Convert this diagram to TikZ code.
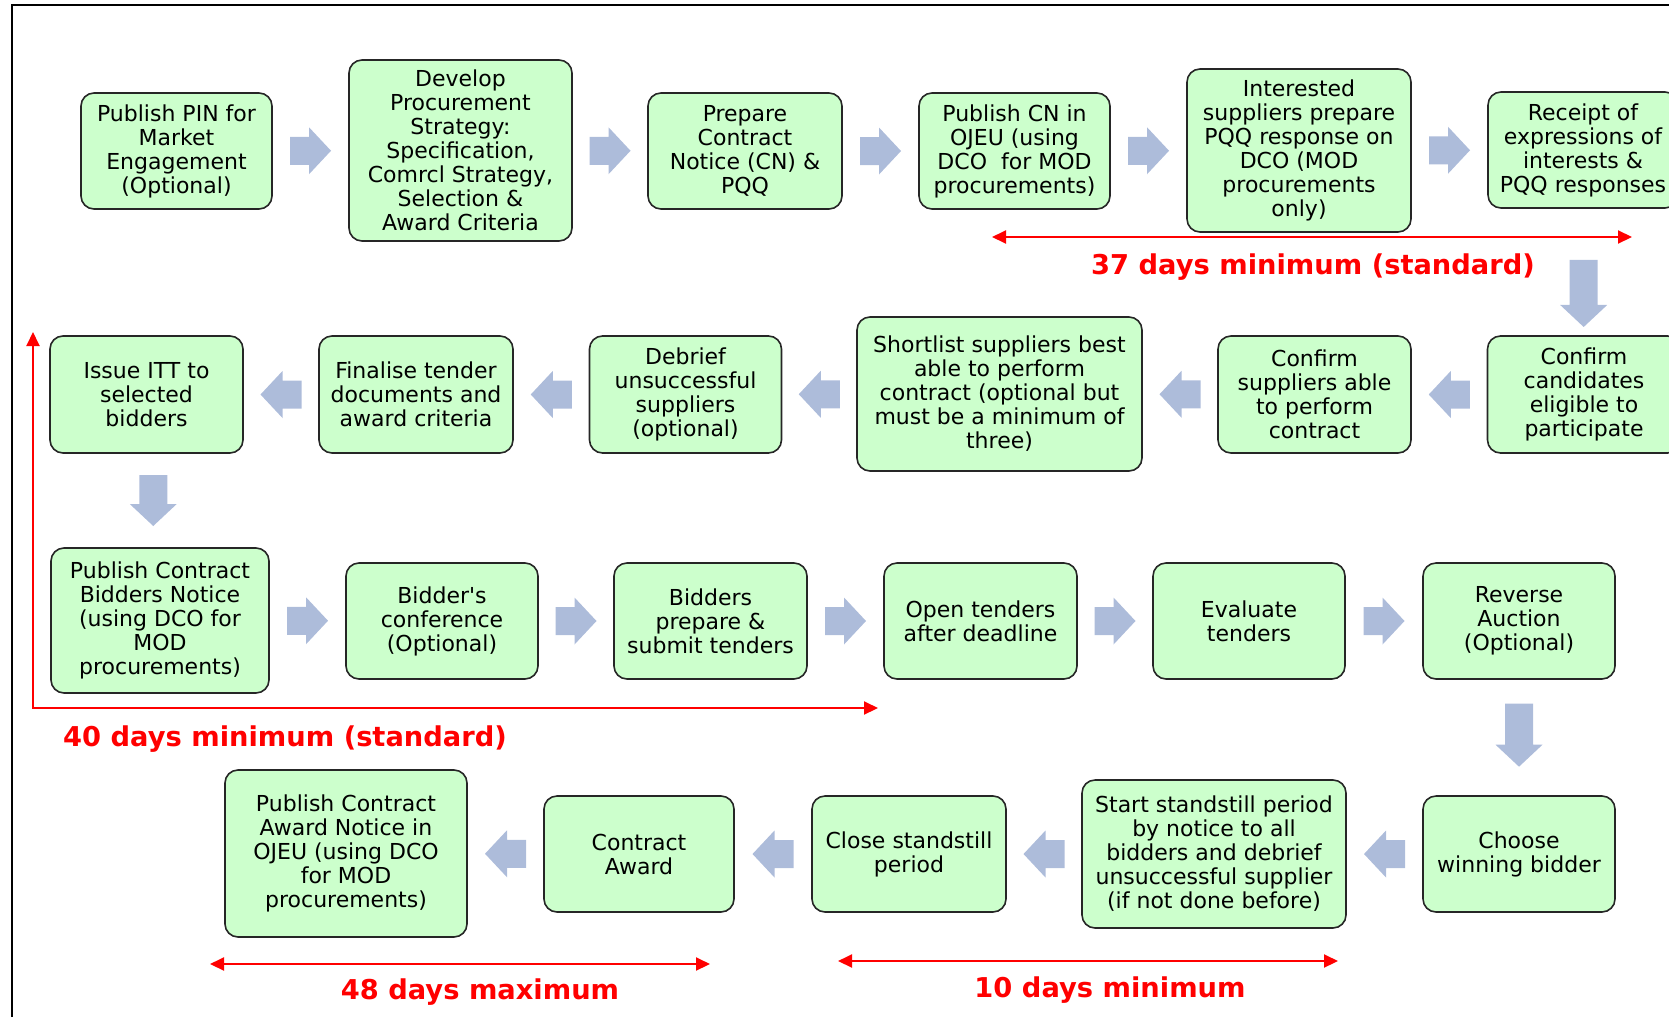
\documentclass[tikz,border=0pt]{standalone}
\usepackage{fontspec}
\setmainfont{DejaVu Sans}
\usetikzlibrary{arrows.meta,calc}
\definecolor{boxgreen}{HTML}{CCFFCC}
\definecolor{arrowblue}{HTML}{ADBCDA}
\tikzset{
  stepbox/.style={draw=black!85,line width=1.6pt,fill=boxgreen,rounded corners=13pt,
    align=center,inner sep=2pt,font=\fontsize{22}{24}\selectfont},
  stdbox/.style={stepbox,minimum width=192pt,minimum height=116pt},
  span/.style={draw=red,line width=2pt,
    {Triangle[length=14pt,width=13pt]}-{Triangle[length=14pt,width=13pt]}},
  spanlabel/.style={text=red,font=\fontsize{27.3}{30}\selectfont\bfseries},
}
% block arrow: position, angle, length
\newcommand{\blockarrow}[3]{%
  \fill[arrowblue,shift={#1},rotate=#2] (-#3/2,-14) -- (#3/2-22,-14) -- (#3/2-22,-23.5)
    -- (#3/2,0) -- (#3/2-22,23.5) -- (#3/2-22,14) -- (-#3/2,14) -- cycle;}

\begin{document}
\begin{tikzpicture}[x=1pt,y=-1pt]
\useasboundingbox (0,0) rectangle (1669,1017);
\clip (0,0) rectangle (1669,1017);
\draw[line width=2pt] (12,1017) -- (12,5) -- (1669,5);

% first row
\node[stdbox,minimum width=191pt] (pin) at (176.5,151) {Publish PIN for\\Market\\Engagement\\(Optional)};
\node[stepbox,minimum width=223pt,minimum height=181pt] (dev) at (460.5,150.5) {Develop\\Procurement\\Strategy:\\Specification,\\Comrcl Strategy,\\Selection \&\\Award Criteria};
\node[stdbox,minimum width=194pt] (prep) at (745,151) {Prepare\\Contract\\Notice (CN) \&\\PQQ};
\node[stdbox,minimum width=191pt] (cn) at (1014.5,151) {Publish CN in\\OJEU (using\\DCO\ \ for MOD\\procurements)};
\node[stepbox,minimum width=224pt,minimum height=163pt] (intr) at (1299,150.5) {Interested\\suppliers prepare\\PQQ response on\\DCO (MOD\\procurements\\only)};
\node[stdbox,minimum width=190pt] (rec) at (1583,150) {Receipt of\\expressions of\\interests \&\\PQQ responses};

% second row
\node[stdbox,minimum width=193pt,minimum height=117pt] (itt) at (146.5,394.5) {Issue ITT to\\selected\\bidders};
\node[stdbox,minimum width=194pt,minimum height=117pt] (fin) at (416,394.5) {Finalise tender\\documents and\\award criteria};
\node[stdbox,minimum height=117pt] (deb) at (685.5,394.5) {Debrief\\unsuccessful\\suppliers\\(optional)};
\node[stepbox,minimum width=285pt,minimum height=154pt] (short) at (999.5,394) {Shortlist suppliers best\\able to perform\\contract (optional but\\must be a minimum of\\three)};
\node[stdbox,minimum width=193pt,minimum height=117pt] (csup) at (1314.5,394.5) {Confirm\\suppliers able\\to perform\\contract};
\node[stdbox,minimum width=193pt,minimum height=117pt] (cand) at (1584,394.5) {Confirm\\candidates\\eligible to\\participate};

% third row
\node[stepbox,minimum width=218pt,minimum height=145pt] (pub) at (160,620.5) {Publish Contract\\Bidders Notice\\(using DCO for\\MOD\\procurements)};
\node[stdbox] (conf) at (442,621) {Bidder\textquotesingle s\\conference\\(Optional)};
\node[stdbox,minimum width=193pt] (subm) at (710.5,621) {Bidders\\prepare \&\\submit tenders};
\node[stdbox,minimum width=193pt] (open) at (980.5,621) {Open tenders\\after deadline};
\node[stdbox] (eval) at (1249,621) {Evaluate\\tenders};
\node[stdbox] (rev) at (1519,621) {Reverse\\Auction\\(Optional)};

% fourth row
\node[stepbox,minimum width=242pt,minimum height=167pt] (can) at (346,853.5) {Publish Contract\\Award Notice in\\OJEU (using DCO\\for MOD\\procurements)};
\node[stdbox,minimum width=190pt] (award) at (639,854) {Contract\\Award};
\node[stdbox,minimum width=194pt] (close) at (909,854) {Close standstill\\period};
\node[stepbox,minimum width=264pt,minimum height=148pt] (start) at (1214,854) {Start standstill period\\by notice to all\\bidders and debrief\\unsuccessful supplier\\(if not done before)};
\node[stdbox] (win) at (1519,854) {Choose\\winning bidder};

% block arrows
\blockarrow{($(pin.east)!0.5!(dev.west)$)}{0}{41}
\blockarrow{($(dev.east)!0.5!(prep.west)$)}{0}{41}
\blockarrow{($(prep.east)!0.5!(cn.west)$)}{0}{41}
\blockarrow{($(cn.east)!0.5!(intr.west)$)}{0}{41}
\blockarrow{($(intr.east)!0.5!(rec.west)$)}{0}{41}
\blockarrow{($(rec.south)!0.67!(cand.north)$)}{-90}{67}
\blockarrow{($(cand.west)!0.5!(csup.east)$)}{180}{41}
\blockarrow{($(csup.west)!0.5!(short.east)$)}{180}{41}
\blockarrow{($(short.west)!0.5!(deb.east)$)}{180}{41}
\blockarrow{($(deb.west)!0.5!(fin.east)$)}{180}{41}
\blockarrow{($(fin.west)!0.5!(itt.east)$)}{180}{41}
\blockarrow{($(itt.south)!0.5!(pub.north)$)}{-90}{51}
\blockarrow{($(pub.east)!0.5!(conf.west)$)}{0}{41}
\blockarrow{($(conf.east)!0.5!(subm.west)$)}{0}{41}
\blockarrow{($(subm.east)!0.5!(open.west)$)}{0}{41}
\blockarrow{($(open.east)!0.5!(eval.west)$)}{0}{41}
\blockarrow{($(eval.east)!0.5!(rev.west)$)}{0}{41}
\blockarrow{($(rev.south)!0.48!(win.north)$)}{-90}{63}
\blockarrow{($(win.west)!0.5!(start.east)$)}{180}{41}
\blockarrow{($(start.west)!0.5!(close.east)$)}{180}{41}
\blockarrow{($(close.west)!0.5!(award.east)$)}{180}{41}
\blockarrow{($(award.west)!0.5!(can.east)$)}{180}{41}

% time spans
\coordinate (s1a) at (992,237);
\coordinate (s1b) at (1632,237);
\draw[span] (s1a) -- (s1b);
\node[spanlabel] (s1) at (1313,267) {37 days minimum (standard)};
\coordinate (s2a) at (33,332);
\coordinate (s2c) at (33,708);
\coordinate (s2b) at (878,708);
\draw[span] (s2a) -- (s2c) -- (s2b);
\node[spanlabel] (s2) at (285,739) {40 days minimum (standard)};
\coordinate (s3a) at (210,964);
\coordinate (s3b) at (710,964);
\draw[span] (s3a) -- (s3b);
\node[spanlabel] (s3) at (480,992) {48 days maximum};
\coordinate (s4a) at (838,961);
\coordinate (s4b) at (1338,961);
\draw[span] (s4a) -- (s4b);
\node[spanlabel] (s4) at (1110,990) {10 days minimum};
\end{tikzpicture}
\end{document}
